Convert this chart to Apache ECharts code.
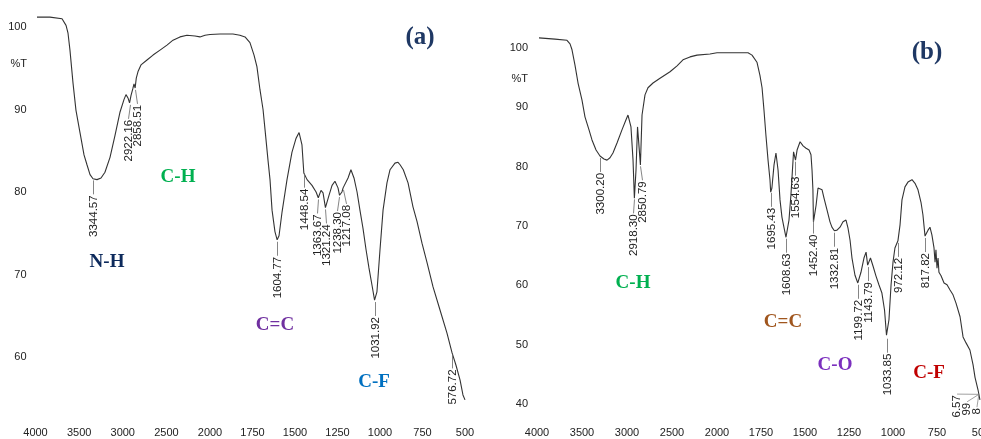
<!DOCTYPE html>
<html><head><meta charset="utf-8">
<script src="https://cdn.jsdelivr.net/npm/echarts@6/dist/echarts.min.js"></script>
<style>html,body{margin:0;padding:0;background:#fff}#c{width:981px;height:439px}</style>
</head><body><div id="c"></div>
<script>
// ---------- Panel (a) spectrum ----------
const wnA = [3983,3834,3696,3650,3628,3605,3570,3536,3490,3444,3410,3375,3341,3295,3249,3204,3146,3088,3031,2986,2963,2940,2922,2905,2885,2871,2858,2845,2825,2791,2722,2653,2573,2493,2424,2344,2264,2172,2115,2057,2000,1941,1865,1824,1794,1765,1741,1724,1706,1688,1676,1659,1647,1635,1618,1605,1594,1576,1547,1518,1494,1476,1459,1448,1429,1400,1376,1363,1347,1335,1321,1300,1282,1265,1247,1238,1224,1217,1188,1171,1153,1135,1118,1100,1082,1065,1047,1032,1018,1000,982,959,941,912,894,882,863,835,806,782,753,724,688,647,606,576,553,529,512,500];
const tA  = [101.2,101.2,101.0,100.2,99.3,97.2,93.2,89.9,87.2,84.5,83.3,82.1,81.6,81.5,81.7,82.4,84.2,86.9,89.7,91.2,91.8,91.4,90.8,91.7,92.5,93.1,92.6,93.8,94.6,95.4,96.0,96.6,97.2,97.8,98.4,98.8,99.0,98.9,98.8,99.0,99.1,99.15,99.15,99.0,98.8,98.1,96.6,95.2,92.4,90.0,87.5,83.9,81.5,77.8,75.2,74.2,74.7,77.6,81.5,84.8,86.5,87.2,85.7,82.3,81.5,80.8,80.0,79.3,80.2,79.9,78.1,79.6,80.8,81.3,80.5,79.6,80.0,80.5,81.7,82.7,81.7,80.0,77.8,75.6,73.0,70.8,68.7,66.9,67.9,73.0,77.8,81.1,82.7,83.5,83.6,83.3,82.7,81.1,78.2,76.4,73.8,71.5,68.5,65.7,62.9,60.5,59.0,57.2,55.4,54.8];
const peakWnA   = [3344.57,2922.16,2858.51,1604.77,1448.54,1363.67,1321.24,1238.30,1217.08,1031.92,576.72];
const peakTextA = ['3344.57','2922.16','2858.51','1604.77','1448.54','1363.67','1321.24','1238.30','1217.08','1031.92','576.72'];

// ---------- Panel (b) spectrum ----------
const wnB = [3978,3800,3667,3633,3611,3578,3544,3500,3467,3422,3389,3344,3300,3256,3222,3189,3156,3111,3056,3011,2989,2972,2956,2933,2918,2900,2883,2851,2833,2800,2767,2711,2633,2522,2444,2378,2300,2222,2078,2000,1898,1824,1801,1773,1756,1744,1733,1722,1710,1699,1695,1688,1676,1665,1653,1642,1631,1619,1608,1591,1580,1565,1554,1545,1528,1511,1494,1477,1466,1460,1455,1452,1437,1426,1415,1403,1392,1375,1358,1347,1333,1318,1301,1284,1267,1256,1244,1233,1216,1200,1182,1165,1153,1144,1128,1114,1097,1080,1063,1048,1037,1034,1023,1011,1000,989,972,960,949,932,915,892,875,858,841,830,818,801,790,779,767,761,756,750,744,739,727,710,693,676,659,642,619,602,585,563,545,534,517,506];
const tB  = [101.7,101.5,101.3,100.7,99.7,97.1,94.1,91.2,88.4,86.2,84.5,82.8,81.8,81.3,81.1,81.5,82.3,84.0,86.2,87.9,88.7,88.4,86.7,81.1,74.7,79.4,86.7,80.3,88.7,92.1,93.3,94.1,94.9,96.0,97.0,98.0,98.5,98.8,99.0,99.2,99.2,99.2,98.8,97.6,95.4,93.3,89.5,85.3,81.1,77.8,75.7,76.4,80.3,82.3,79.4,74.4,71.5,69.7,68.1,71.0,75.2,82.5,81.1,82.8,84.2,83.5,83.1,82.8,82.0,79.4,76.1,70.7,73.5,76.4,76.6,76.1,74.7,72.7,70.7,69.8,69.2,69.3,69.8,70.7,71.0,69.7,67.6,64.6,61.7,60.4,62.2,64.6,65.6,63.4,64.6,63.3,61.6,60.1,58.7,55.8,51.6,51.3,54.2,60.1,63.9,66.3,67.5,70.2,74.4,76.6,77.4,77.8,77.2,76.1,74.0,71.9,68.3,69.3,69.8,68.5,66.3,63.9,66.0,62.9,64.6,62.2,61.6,60.4,60.1,59.2,58.4,57.0,54.7,51.3,50.3,49.1,46.6,44.5,42.4,40.7];
const peakWnB   = [3300.20,2918.30,2850.79,1695.43,1608.63,1554.63,1452.40,1332.81,1199.72,1143.79,1033.85,972.12,817.82];
const peakTextB = ['3300.20','2918.30','2850.79','1695.43','1608.63','1554.63','1452.40','1332.81','1199.72','1143.79','1033.85','972.12','817.82'];
// truncated labels at the low-wavenumber end of (b)
const tailWnB   = [636, 579, 523];
const tailTextB = ['6.57', '99', '8'];
const tailLabelTB = [41.5, 40.2, 39.3];

// ---------- axis ticks ----------
const xTicksHigh = [4000, 3500, 3000, 2500, 2000];
const xTicksLow  = [2000, 1750, 1500, 1250, 1000, 750, 500];
const yTicksA = [100, 90, 80, 70, 60];
const yTicksB = [100, 90, 80, 70, 60, 50, 40];

// ---------- helpers ----------
function interp(ws, ts, w) {
  for (let i = 0; i < ws.length - 1; i++) {
    const a = ws[i], b = ws[i + 1];
    if ((w <= a && w >= b)) {
      const f = (a - w) / (a - b);
      return ts[i] + f * (ts[i + 1] - ts[i]);
    }
  }
  return ts[ts.length - 1];
}
function pairs(ws, ts, hi) {
  const out = [];
  for (let i = 0; i < ws.length; i++) {
    if (hi ? ws[i] >= 2000 : ws[i] <= 2000) out.push([ws[i], ts[i]]);
  }
  return out;
}
// spread crowded label x positions apart (pixel space)
function spread(xs, minGap) {
  const r = xs.slice();
  for (let it = 0; it < 60; it++) {
    for (let i = 0; i < r.length - 1; i++) {
      const d = r[i + 1] - r[i];
      if (d < minGap) { const s = (minGap - d) / 2; r[i] -= s; r[i + 1] += s; }
    }
  }
  return r;
}
const LABEL_FONT = '11.5px "Liberation Sans", Arial, sans-serif';
const AXIS_FONT = '"Liberation Sans Narrow", "Liberation Sans", Arial, sans-serif';
const LEAD = 16;

function peakSeries(xi, yi, wns, texts, ws, ts) {
  let cache = null;
  return {
    type: 'custom', xAxisIndex: xi, yAxisIndex: yi, clip: false, silent: true, z: 5,
    data: wns.map((w, i) => [w, interp(ws, ts, w), i]),
    renderItem: function (params, api) {
      if (!cache || params.dataIndexInside === 0) {
        const px = wns.map(w => api.coord([w, 80])[0]);
        cache = spread(px, 9);
      }
      const p = api.coord([api.value(0), api.value(1)]);
      const i = api.value(2);
      const x0 = Math.round(p[0]) + 0.5;
      const xl = Math.round(cache[i]) + 0.5;
      return { type: 'group', children: [
        { type: 'line', shape: { x1: x0, y1: p[1] + 2, x2: xl, y2: p[1] + LEAD }, style: { stroke: '#666', lineWidth: 0.8 } },
        { type: 'text', x: xl, y: p[1] + LEAD + 1, rotation: Math.PI / 2,
          style: { text: texts[i], fill: '#222', font: LABEL_FONT, align: 'right', verticalAlign: 'middle' } }
      ]};
    }
  };
}
function tailSeries(xi, yi) {
  return {
    type: 'custom', xAxisIndex: xi, yAxisIndex: yi, clip: false, silent: true, z: 5,
    data: tailWnB.map((w, i) => [w, tailLabelTB[i], i]),
    renderItem: function (params, api) {
      const p = api.coord([api.value(0), api.value(1)]);
      const q = api.coord([512, interp(wnB, tB, 512)]);
      const i = api.value(2);
      return { type: 'group', children: [
        { type: 'line', shape: { x1: p[0], y1: p[1] - 1, x2: q[0], y2: q[1] }, style: { stroke: '#777', lineWidth: 0.7 } },
        { type: 'text', x: p[0], y: p[1], rotation: Math.PI / 2,
          style: { text: tailTextB[i], fill: '#222', font: LABEL_FONT, align: 'right', verticalAlign: 'middle' } }
      ]};
    }
  };
}
function xAxis(grid, lo, hi, step, hideVal) {
  return {
    type: 'value', gridIndex: grid, min: lo, max: hi, interval: step, inverse: true,
    axisLine: { show: false }, axisTick: { show: false }, splitLine: { show: false },
    axisLabel: { margin: 9, fontSize: 11, fontFamily: AXIS_FONT, color: '#222',
      formatter: v => (v === hideVal ? '' : String(v)) }
  };
}
function yAxis(grid, lo, hi, ticks, show) {
  return {
    type: 'value', gridIndex: grid, min: lo, max: hi, interval: 2.5, show: show,
    axisLine: { show: false }, axisTick: { show: false }, splitLine: { show: false },
    axisLabel: { margin: 9, fontSize: 11, fontFamily: AXIS_FONT, color: '#222',
      formatter: v => (ticks.indexOf(v) >= 0 ? String(v) : '') }
  };
}
const lineStyle = { color: '#333', width: 1.1 };
function curve(xi, yi, data) {
  return { type: 'line', xAxisIndex: xi, yAxisIndex: yi, data: data, showSymbol: false,
    symbol: 'none', lineStyle: lineStyle, silent: true, z: 3 };
}
function tag(x, y, text, color, size) {
  return { type: 'text', x: x, y: y, silent: true,
    style: { text: text, fill: color, font: 'bold ' + size + 'px "Liberation Serif", "Times New Roman", serif',
      align: 'center', verticalAlign: 'middle' } };
}
function plain(x, y, text) {
  return { type: 'text', x: x, y: y, silent: true,
    style: { text: text, fill: '#222', font: '11px ' + AXIS_FONT, align: 'right', verticalAlign: 'middle' } };
}

const chart = echarts.init(document.getElementById('c'), null, { renderer: 'canvas' });
chart.setOption({
  animation: false,
  backgroundColor: '#ffffff',
  grid: [
    { left: 35.5, top: 6.375, width: 174.5, height: 412.5, outerBoundsMode: 'none', containLabel: false },
    { left: 210, top: 6.375, width: 255, height: 412.5, outerBoundsMode: 'none', containLabel: false },
    { left: 537, top: 18.33, width: 180, height: 400.5, outerBoundsMode: 'none', containLabel: false },
    { left: 717, top: 18.33, width: 264, height: 400.5, outerBoundsMode: 'none', containLabel: false }
  ],
  xAxis: [
    xAxis(0, xTicksHigh[4], xTicksHigh[0], 500, null),
    xAxis(1, xTicksLow[6], xTicksLow[0], 250, 2000),
    xAxis(2, xTicksHigh[4], xTicksHigh[0], 500, null),
    xAxis(3, xTicksLow[6], xTicksLow[0], 250, 2000)
  ],
  yAxis: [
    yAxis(0, 52.5, 102.5, yTicksA, true),
    yAxis(1, 52.5, 102.5, yTicksA, false),
    yAxis(2, 37.5, 105, yTicksB, true),
    yAxis(3, 37.5, 105, yTicksB, false)
  ],
  series: [
    curve(0, 0, pairs(wnA, tA, true)),
    curve(1, 1, pairs(wnA, tA, false)),
    curve(2, 2, pairs(wnB, tB, true)),
    curve(3, 3, pairs(wnB, tB, false)),
    peakSeries(0, 0, peakWnA.filter(w => w >= 2000), peakTextA.filter((t, i) => peakWnA[i] >= 2000), wnA, tA),
    peakSeries(1, 1, peakWnA.filter(w => w < 2000), peakTextA.filter((t, i) => peakWnA[i] < 2000), wnA, tA),
    peakSeries(2, 2, peakWnB.filter(w => w >= 2000), peakTextB.filter((t, i) => peakWnB[i] >= 2000), wnB, tB),
    peakSeries(3, 3, peakWnB.filter(w => w < 2000), peakTextB.filter((t, i) => peakWnB[i] < 2000), wnB, tB),
    tailSeries(3, 3)
  ],
  graphic: [
    plain(27, 64, '%T'),
    plain(528, 79, '%T'),
    tag(420, 38, '(a)', '#1F3864', 25),
    tag(178, 177, 'C-H', '#00B050', 19),
    tag(107, 262, 'N-H', '#0D2A5C', 19),
    tag(275, 325, 'C=C', '#7030A0', 19),
    tag(374, 382, 'C-F', '#0070C0', 19),
    tag(927, 53, '(b)', '#1F3864', 25),
    tag(633, 283, 'C-H', '#00B050', 19),
    tag(783, 322, 'C=C', '#A0561E', 19),
    tag(835, 365, 'C-O', '#7B2FBE', 19),
    tag(929, 373, 'C-F', '#C00000', 19)
  ]
});
</script>
</body></html>
